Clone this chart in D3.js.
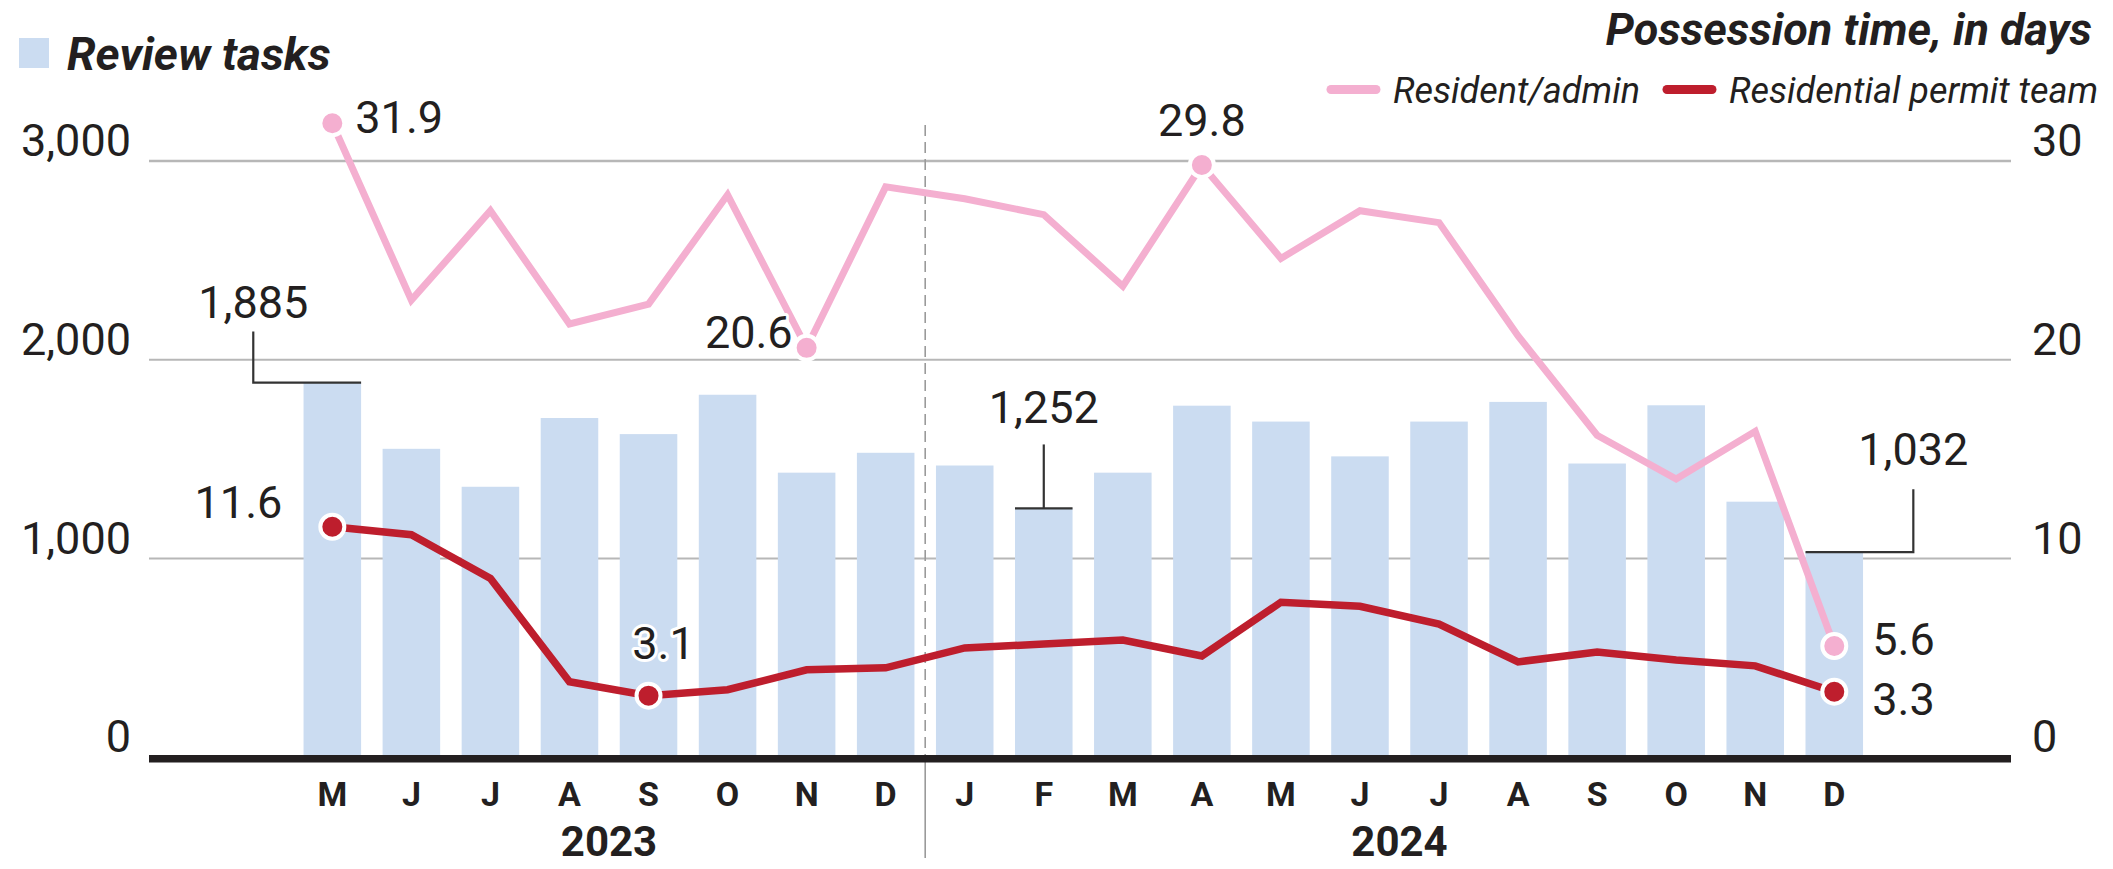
<!DOCTYPE html>
<html>
<head>
<meta charset="utf-8">
<script src="https://cdn.jsdelivr.net/npm/d3@7"></script>
<style>
body { margin: 0; background: #fff; }
svg text { font-family: Roboto, "Noto Sans", sans-serif; fill: #231f20; }
</style>
</head>
<body>
<div id="area1"></div>
<script>
//chart values
var monthLetters = ["M","J","J","A","S","O","N","D","J","F","M","A","M","J","J","A","S","O","N","D"];
var monthYears = [2023,2023,2023,2023,2023,2023,2023,2023,2024,2024,2024,2024,2024,2024,2024,2024,2024,2024,2024,2024];
var years = [2023, 2024];
var reviewTasks = [1885,1552,1361,1707,1626,1824,1432,1532,1468,1252,1432,1769,1689,1514,1689,1788,1478,1771,1286,1032];
var residentAdmin = [31.9,23.0,27.5,21.8,22.8,28.3,20.6,28.7,28.1,27.3,23.7,29.8,25.1,27.5,26.9,21.2,16.2,14.0,16.4,5.6];
var permitTeam = [11.6,11.2,9.0,3.8,3.1,3.4,4.4,4.5,5.5,5.7,5.9,5.1,7.8,7.6,6.7,4.8,5.3,4.9,4.6,3.3];
var leftTicks = [0, 1000, 2000, 3000];
var rightTicks = [0, 10, 20, 30];
var legendNames = ["Resident/admin", "Residential permit team"];

//which points / bars get a number written next to them
var barNotes = [0, 9, 19];
var pinkNotes = [0, 6, 11, 19];
var redNotes = [0, 4, 19];

function drawChart(){
	var svgWidth = 2113;
	var svgHeight = 869;
	var gridLeft = 149, gridRight = 2011;
	var barColor = "#cbdcf1";
	var pink = "#f4afd0";
	var red = "#be1e2d";

	var svg = d3.select("#area1")
		.append("svg")
		.attr("width", svgWidth)
		.attr("height", svgHeight);

	//scales
	var xScale = d3.scaleBand()
		.domain(d3.range(monthLetters.length))
		.range([292.8, 1873.8])
		.paddingInner(0.272)
		.paddingOuter(0.136);
	var cx = function(i){ return xScale(i) + xScale.bandwidth() / 2; };

	var yLeft = d3.scaleLinear().domain([0, 3000]).range([757.3, 161]);
	var yRight = d3.scaleLinear().domain([0, 30]).range([757.3, 161]);

	//gridlines (behind the bars)
	svg.append("g").selectAll("line")
		.data(leftTicks.filter(function(d){ return d > 0; }))
		.enter()
		.append("line")
		.attr("x1", gridLeft)
		.attr("x2", gridRight)
		.attr("y1", function(d){ return yLeft(d); })
		.attr("y2", function(d){ return yLeft(d); })
		.attr("stroke", "#b7b7b7")
		.attr("stroke-width", function(d){ return d == 3000 ? 2.6 : 2; });

	//left axis labels
	var yAxisLeft = d3.axisLeft(yLeft)
		.tickValues(leftTicks)
		.tickFormat(d3.format(","))
		.tickSize(0)
		.tickPadding(0);
	var gl = svg.append("g")
		.attr("transform", "translate(131,0)")
		.call(yAxisLeft);
	gl.select(".domain").remove();
	gl.selectAll("text")
		.attr("dy", "-0.12em")
		.style("font-size", "45px")
		.style("font-family", "Roboto, sans-serif")
		.attr("fill", "#231f20");

	//right axis labels
	var yAxisRight = d3.axisRight(yRight)
		.tickValues(rightTicks)
		.tickSize(0)
		.tickPadding(0);
	var gr = svg.append("g")
		.attr("transform", "translate(2032,0)")
		.call(yAxisRight);
	gr.select(".domain").remove();
	gr.selectAll("text")
		.attr("dy", "-0.12em")
		.style("font-size", "45px")
		.style("font-family", "Roboto, sans-serif")
		.attr("fill", "#231f20");

	//bars
	svg.append("g").selectAll("rect")
		.data(reviewTasks)
		.enter()
		.append("rect")
		.attr("x", function(d, i){ return xScale(i); })
		.attr("y", function(d){ return yLeft(d); })
		.attr("width", xScale.bandwidth())
		.attr("height", function(d){ return yLeft(0) - yLeft(d); })
		.attr("fill", barColor);

	//year divider, dashed above the baseline and solid below
	var divX = (cx(7) + cx(8)) / 2;
	svg.append("line")
		.attr("x1", divX).attr("x2", divX)
		.attr("y1", 125).attr("y2", yLeft(0))
		.attr("stroke", "#9a9a9a")
		.attr("stroke-width", 1.6)
		.attr("stroke-dasharray", "11,6");
	svg.append("line")
		.attr("x1", divX).attr("x2", divX)
		.attr("y1", yLeft(0)).attr("y2", 858)
		.attr("stroke", "#9a9a9a")
		.attr("stroke-width", 1.6);

	//baseline
	svg.append("line")
		.attr("x1", gridLeft)
		.attr("x2", gridRight)
		.attr("y1", yLeft(0) + 1.5)
		.attr("y2", yLeft(0) + 1.5)
		.attr("stroke", "#231f20")
		.attr("stroke-width", 7.5);

	//bar value notes with leader lines
	var noteSide = {0: -1, 9: 0, 19: 1};
	var noteRise = {0: 51, 9: 64, 19: 63};
	var noteGap = {0: 14, 9: 21, 19: 24};
	barNotes.forEach(function(i){
		var top = yLeft(reviewTasks[i]);
		var side = noteSide[i];
		var lx = cx(i) + side * xScale.step();
		var hx1 = side < 0 ? lx : xScale(i);
		var hx2 = side > 0 ? lx : xScale(i) + xScale.bandwidth();
		var path = "M" + lx + "," + (top - noteRise[i]) + "V" + top + (side < 0 ? "H" + hx2 : (side > 0 ? "H" + hx1 : ""));
		if(side == 0){
			svg.append("line")
				.attr("x1", hx1).attr("x2", hx2)
				.attr("y1", top).attr("y2", top)
				.attr("stroke", "#333").attr("stroke-width", 2.2);
		}
		svg.append("path")
			.attr("d", path)
			.attr("fill", "none")
			.attr("stroke", "#333")
			.attr("stroke-width", 2.2);
		svg.append("text")
			.attr("x", lx)
			.attr("y", top - noteRise[i] - noteGap[i])
			.attr("text-anchor", "middle")
			.style("font-size", "45px")
			.text(d3.format(",")(reviewTasks[i]));
	});

	//lines
	var line = d3.line()
		.x(function(d, i){ return cx(i); })
		.y(function(d){ return yRight(d); });

	svg.append("path")
		.datum(residentAdmin)
		.attr("d", line)
		.attr("fill", "none")
		.attr("stroke", pink)
		.attr("stroke-width", 7);

	svg.append("path")
		.datum(permitTeam)
		.attr("d", line)
		.attr("fill", "none")
		.attr("stroke", red)
		.attr("stroke-width", 7.5);

	//highlighted points
	function drawDots(values, idx, color){
		svg.append("g").selectAll("circle")
			.data(idx)
			.enter()
			.append("circle")
			.attr("cx", function(i){ return cx(i); })
			.attr("cy", function(i){ return yRight(values[i]); })
			.attr("r", 12)
			.attr("fill", color)
			.attr("stroke", "#fff")
			.attr("stroke-width", 4);
	}
	drawDots(residentAdmin, pinkNotes, pink);
	drawDots(permitTeam, redNotes, red);

	//point labels: [dx, dy, anchor]
	var pinkPos = {0: [23, 10, "start"], 6: [-14, 0, "end"], 11: [0, -29, "middle"], 19: [38, 9, "start"]};
	var redPos = {0: [-50, -9, "end"], 4: [15, -37, "middle"], 19: [38, 23, "start"]};
	function drawPointLabels(values, idx, pos){
		svg.append("g").selectAll("text")
			.data(idx)
			.enter()
			.append("text")
			.attr("x", function(i){ return cx(i) + pos[i][0]; })
			.attr("y", function(i){ return yRight(values[i]) + pos[i][1]; })
			.attr("text-anchor", function(i){ return pos[i][2]; })
			.style("font-size", "45px")
			.style("paint-order", "stroke")
			.attr("stroke", "#fff")
			.attr("stroke-width", 6)
			.attr("stroke-linejoin", "round")
			.text(function(i){ return d3.format(".1f")(values[i]); });
	}
	drawPointLabels(residentAdmin, pinkNotes, pinkPos);
	drawPointLabels(permitTeam, redNotes, redPos);

	//month letters under the axis
	svg.append("g").selectAll("text")
		.data(monthLetters)
		.enter()
		.append("text")
		.attr("x", function(d, i){ return cx(i); })
		.attr("y", 806)
		.attr("text-anchor", "middle")
		.style("font-size", "34px")
		.style("font-weight", "bold")
		.text(function(d){ return d; });

	//years, centred under their months
	svg.append("g").selectAll("text")
		.data(years)
		.enter()
		.append("text")
		.attr("x", function(yr){
			var idx = d3.range(monthYears.length).filter(function(i){ return monthYears[i] == yr; });
			return (cx(idx[0]) + cx(idx[idx.length - 1])) / 2;
		})
		.attr("y", 856)
		.attr("text-anchor", "middle")
		.style("font-size", "42px")
		.style("font-weight", "bold")
		.text(function(d){ return d; });

	//bar legend (top left)
	svg.append("rect")
		.attr("x", 19).attr("y", 38)
		.attr("width", 30).attr("height", 30)
		.attr("fill", barColor);
	svg.append("text")
		.attr("x", 67).attr("y", 70)
		.style("font-size", "46px")
		.style("font-weight", "bold")
		.style("font-style", "italic")
		.text("Review tasks");

	//line legend (top right)
	svg.append("text")
		.attr("x", 2092).attr("y", 45)
		.attr("text-anchor", "end")
		.style("font-size", "45px")
		.style("font-weight", "bold")
		.style("font-style", "italic")
		.text("Possession time, in days");

	var legendX = [1327, 1663];
	var legendColors = [pink, red];
	legendNames.forEach(function(name, k){
		svg.append("line")
			.attr("x1", legendX[k] + 4).attr("x2", legendX[k] + 49)
			.attr("y1", 89.5).attr("y2", 89.5)
			.attr("stroke", legendColors[k])
			.attr("stroke-width", 9)
			.attr("stroke-linecap", "round");
		svg.append("text")
			.attr("x", legendX[k] + 66).attr("y", 102.5)
			.style("font-size", "36px")
			.style("font-style", "italic")
			.text(name);
	});
}

drawChart();
</script>
</body>
</html>
